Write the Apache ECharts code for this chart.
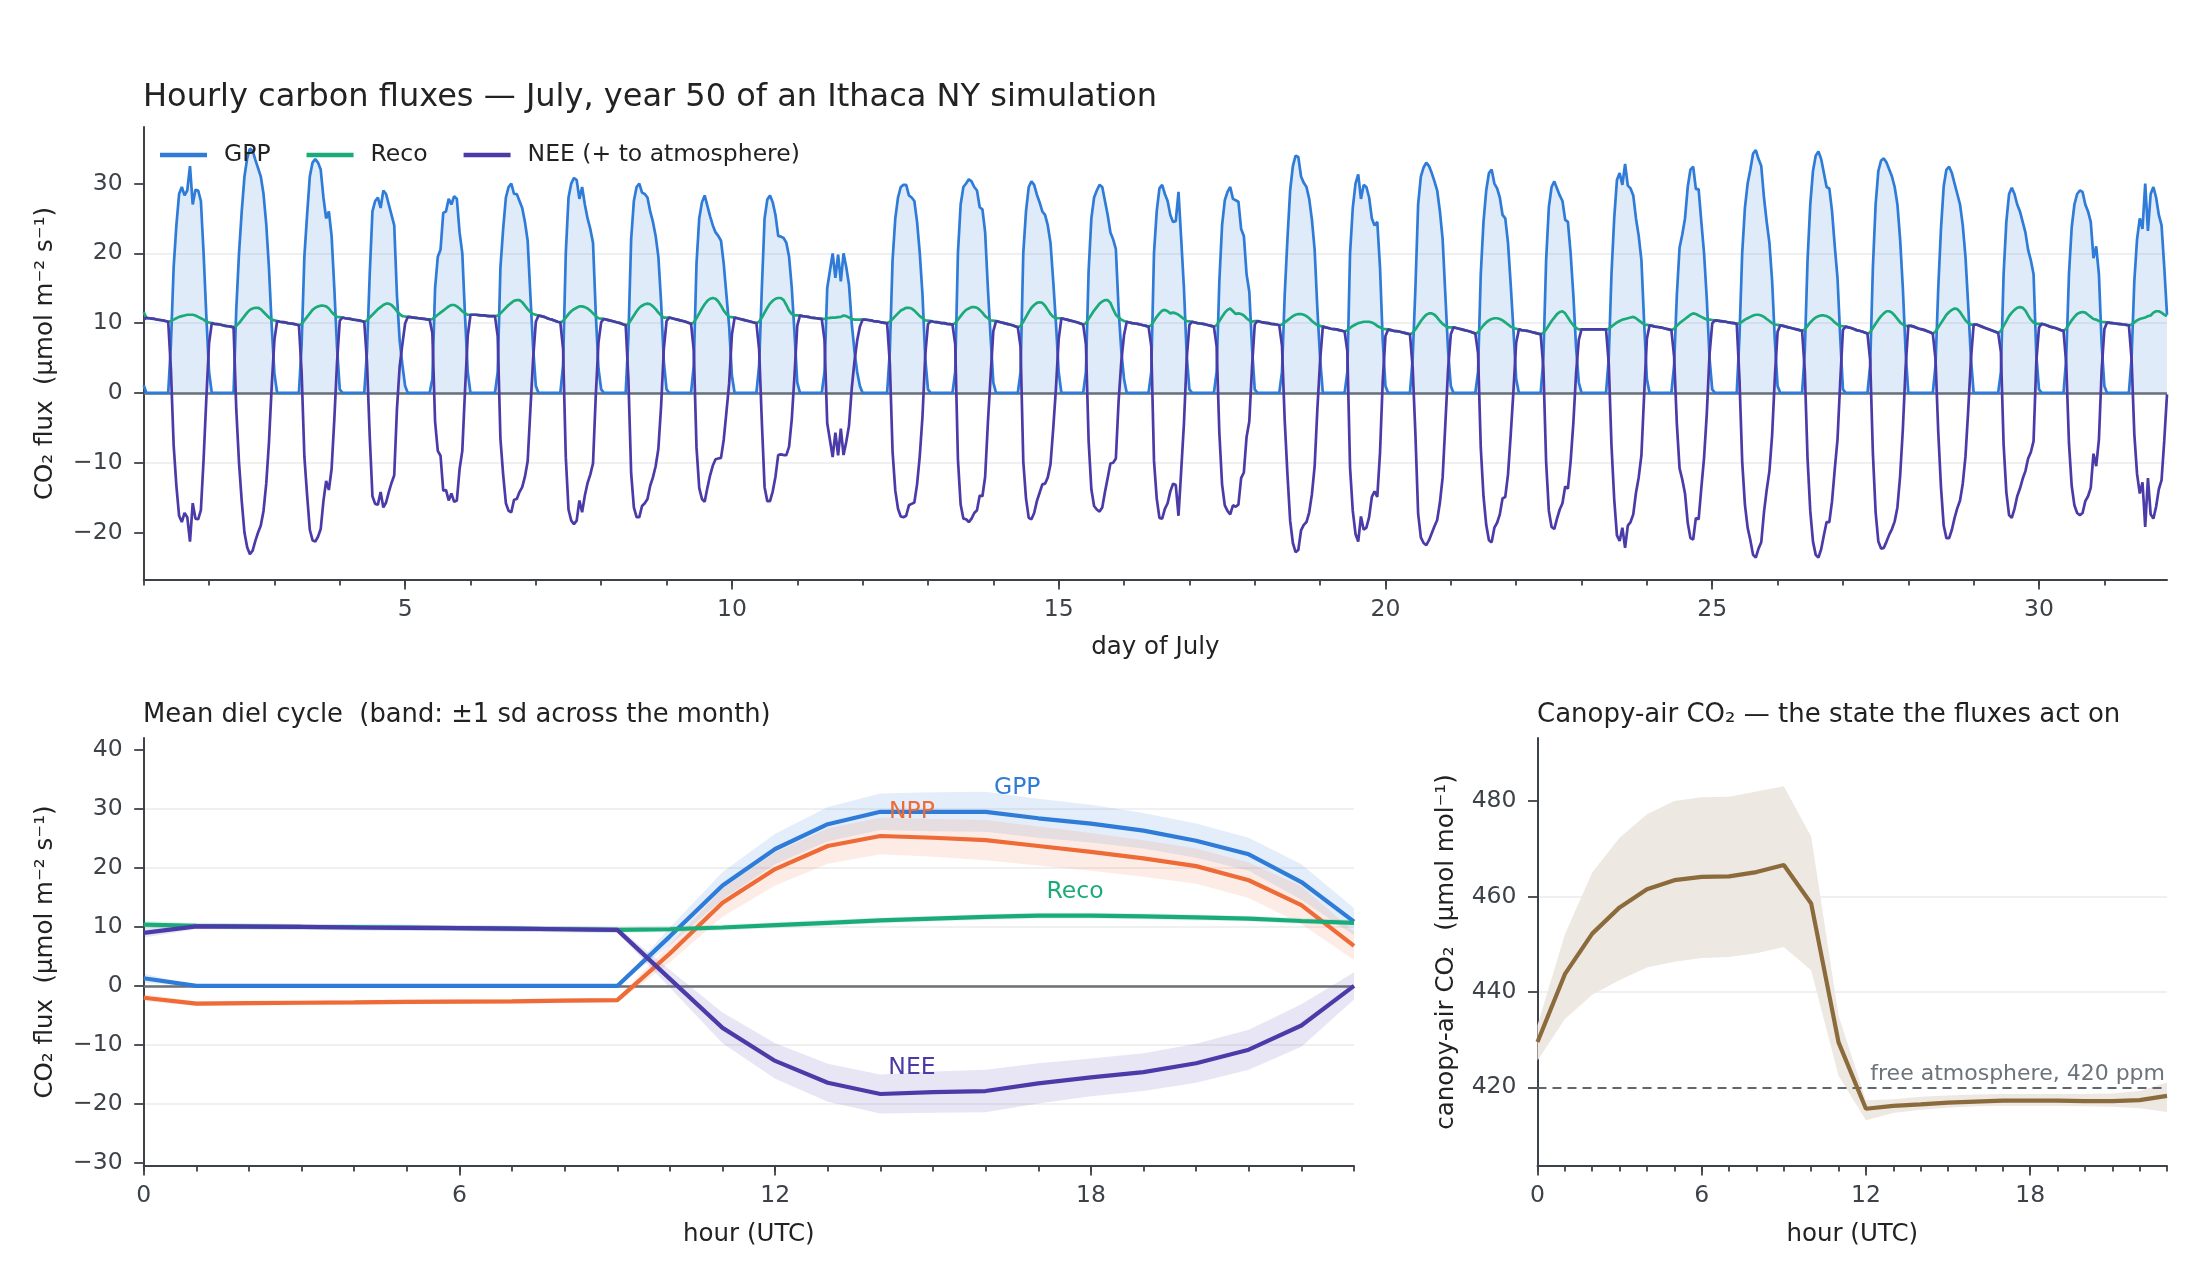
<!DOCTYPE html>
<html>
<head>
<meta charset="utf-8">
<script src="https://cdn.jsdelivr.net/npm/echarts@6/dist/echarts.min.js"></script>
<style>
  html, body { margin: 0; padding: 0; background: #fff; }
  #chart { width: 2200px; height: 1280px; }
</style>
</head>
<body>
<div id="chart"></div>
<script>
// hourly GPP for each day of July, hours 0..23 UTC (umol m-2 s-1)
const gppByDay = [
  [1.1,0,0,0,0,0,0,0,0,0,7,18,24,28.5,29.5,28.3,29,32.5,27,29.1,29,27.5,20,11],
  [3.0,0,0,0,0,0,0,0,0,0,12,20,26,31,33.6,35,34.7,33.4,32.2,31,28.5,24.2,17.9,9.6],
  [2.8,0,0,0,0,0,0,0,0,0,7,19.5,25.5,31,33,33.5,33,32,28,25,26,22.5,15,6.5],
  [0.5,0,0,0,0,0,0,0,0,0,6,17,26,27.5,28,26.5,29,28.5,27,25.5,24,14,7.5,4],
  [1,0,0,0,0,0,0,0,0,0,2,15,19.5,20.5,25.8,26,27.8,27,28.2,27.8,23,20,11,3],
  [0,0,0,0,0,0,0,0,0,0,3,18,23.5,28,29.5,30,28.5,28.5,27.5,26.5,24.5,21.8,14,6.5],
  [1,0,0,0,0,0,0,0,0,0,4,20,28,30,30.8,30.5,27.8,29.5,27,25,23.5,21.5,11.5,3.5],
  [0.5,0,0,0,0,0,0,0,0,0,8,22,27.5,29.5,30,28.7,28.5,28,26,24.5,22.5,19.5,13,4.5],
  [0.5,0,0,0,0,0,0,0,0,0,4,18.5,25,27.3,28.3,26.8,25.3,24,23,22.5,21.8,18.5,14,9.5],
  [2.5,0,0,0,0,0,0,0,0,0,4,15,25,27.7,28.3,27.3,25.5,22.5,22.4,22.2,21.5,19.5,15,8.5],
  [1.5,0,0,0,0,0,0,0,0,0,3,15,17.5,20,16.5,19.8,16,20,18,15.5,10,6,3,1],
  [0,0,0,0,0,0,0,0,0,0,6,19,25,28,29.5,29.8,29.8,28.3,28,27.5,24.5,20,14,5],
  [0.5,0,0,0,0,0,0,0,0,0,3,20,27,29.5,30,30.6,30.3,29.5,29,26.6,26.3,23,15,8],
  [1.5,0,0,0,0,0,0,0,0,0,3,20,26,29.5,30.3,29.8,28.4,27.3,26,25.5,24,21.5,16,10],
  [3,0,0,0,0,0,0,0,0,0,3,17.5,25,28,29,29.8,29.5,27.5,25.5,23,22,20.6,12,6],
  [2,0,0,0,0,0,0,0,0,0,3,20,26,29.3,29.8,28.5,27.5,25.5,24.5,24.6,28.8,22,15,5.5],
  [0.5,0,0,0,0,0,0,0,0,0,3,16,24,27.6,28.8,29.5,27.8,27.6,27.4,23.5,22.5,17,14.5,6.5],
  [0.5,0,0,0,0,0,0,0,0,0,3,14,22,29,32.5,34,33.8,31,30.1,29.5,27.8,24.8,20.5,12],
  [5,0,0,0,0,0,0,0,0,0,3,20,26.5,30,31.3,27.8,29.8,29.5,28,25,24,24.5,18,7.5],
  [1,0,0,0,0,0,0,0,0,0,5,15,27,31,32.3,33,32.5,31.5,30.3,29,26,22,14,6],
  [1,0,0,0,0,0,0,0,0,0,3,17,24.5,29,31.5,32,30,29.3,28,25.5,25,21.5,15.5,9],
  [2,0,0,0,0,0,0,0,0,0,5,19,26.6,29.5,30.3,29.3,28.3,27.5,24.8,24.5,20,14,6.5,1.5],
  [0,0,0,0,0,0,0,0,0,0,5,17,25,30.5,31.5,29.8,32.8,29.7,29.3,28.3,25,22.5,19,10],
  [2,0,0,0,0,0,0,0,0,0,4,14,20.8,22.7,25,29.5,32,32.4,29.2,29.2,24.5,20,13.5,5],
  [0.5,0,0,0,0,0,0,0,0,0,8,20,26.5,30,32,34.3,34.8,33.5,32.5,28,24.5,21.5,16,7.5],
  [1,0,0,0,0,0,0,0,0,0,6,19,27,31.8,34,34.6,33.5,31.5,29.5,29.3,26,21,16.5,8],
  [0.5,0,0,0,0,0,0,0,0,0,4,18,27,31.8,33.3,33.6,33,32,31,29.5,27,22,15,6],
  [0,0,0,0,0,0,0,0,0,0,4,15,23.5,29.6,32,32.4,31.5,30,28.5,27,24,19.5,12.5,5],
  [0,0,0,0,0,0,0,0,0,0,3,17,24.5,28.5,29.4,28.5,27,26,24.5,23,20.5,19,17,5.5],
  [0.5,0,0,0,0,0,0,0,0,0,5,17,23.7,27,28.5,29,28.8,27,26,24.5,19.3,21,17,7],
  [1,0,0,0,0,0,0,0,0,0,5,16,22,25,23.5,30,23.2,28.5,29.5,28,25.5,24,18,11.2]
];

// hourly ecosystem respiration for each day, hours 0..23 UTC
const recoByDay = [
  [11.6,10.75,10.7,10.65,10.6,10.5,10.45,10.4,10.3,10.2,10.3,10.5,10.7,10.9,11.0,11.1,11.2,11.2,11.2,11.1,10.9,10.7,10.5,10.2],
  [10.1,10.0,9.9,9.85,9.8,9.7,9.6,9.55,9.5,9.4,9.6,10.0,10.5,11.0,11.5,11.9,12.1,12.2,12.2,12.0,11.6,11.2,10.8,10.5],
  [10.4,10.3,10.2,10.15,10.1,10.0,9.95,9.9,9.8,9.7,9.9,10.4,10.9,11.4,11.9,12.2,12.4,12.5,12.5,12.4,12.1,11.6,11.2,10.9],
  [10.85,10.8,10.7,10.65,10.6,10.5,10.45,10.4,10.3,10.2,10.4,10.8,11.2,11.6,12.0,12.3,12.6,12.8,12.8,12.6,12.2,11.7,11.3,11.0],
  [10.95,10.9,10.85,10.8,10.75,10.7,10.65,10.6,10.55,10.5,10.6,10.9,11.2,11.5,11.8,12.1,12.4,12.6,12.6,12.4,12.1,11.7,11.4,11.2],
  [11.2,11.2,11.2,11.15,11.1,11.1,11.05,11.0,11.0,11.0,11.1,11.4,11.8,12.2,12.6,12.9,13.2,13.3,13.3,13.0,12.5,12.0,11.6,11.3],
  [11.2,11.1,11.0,10.9,10.75,10.6,10.5,10.35,10.2,10.1,10.3,10.8,11.3,11.7,12.0,12.2,12.4,12.4,12.3,12.1,11.8,11.4,11.0,10.7],
  [10.65,10.6,10.5,10.4,10.3,10.2,10.1,10.0,9.85,9.7,9.9,10.5,11.1,11.7,12.2,12.5,12.7,12.8,12.7,12.4,12.0,11.5,11.1,10.8],
  [10.8,10.8,10.7,10.6,10.5,10.4,10.3,10.2,10.05,9.9,10.1,10.7,11.4,12.1,12.7,13.2,13.5,13.6,13.5,13.1,12.5,11.8,11.3,10.9],
  [10.85,10.8,10.7,10.6,10.5,10.4,10.3,10.2,10.1,10.0,10.2,10.8,11.5,12.2,12.8,13.2,13.5,13.6,13.6,13.3,12.6,11.8,11.3,11.1],
  [11.1,11.1,11.0,10.95,10.9,10.8,10.75,10.7,10.65,10.6,10.6,10.7,10.75,10.8,10.8,10.85,10.9,11.1,11.0,10.8,10.6,10.5,10.5,10.5],
  [10.5,10.5,10.45,10.4,10.3,10.25,10.2,10.1,10.05,10.0,10.2,10.6,11.0,11.4,11.8,12.0,12.2,12.2,12.1,11.8,11.4,11.0,10.7,10.4],
  [10.35,10.3,10.2,10.15,10.1,10.0,10.0,9.9,9.85,9.8,10.0,10.5,11.0,11.5,11.9,12.1,12.3,12.3,12.2,11.9,11.5,11.0,10.7,10.4],
  [10.35,10.3,10.2,10.1,10.0,9.9,9.8,9.7,9.55,9.4,9.6,10.2,10.9,11.6,12.2,12.6,12.9,13.0,12.9,12.5,11.9,11.3,10.9,10.7],
  [10.7,10.7,10.6,10.5,10.4,10.3,10.2,10.1,9.95,9.8,10.0,10.6,11.2,11.8,12.3,12.8,13.1,13.3,13.3,12.9,12.0,11.2,10.8,10.5],
  [10.3,10.2,10.1,10.0,9.95,9.9,9.8,9.7,9.6,9.5,9.7,10.3,10.9,11.4,11.8,11.9,11.7,11.4,11.5,11.4,11.2,10.9,10.6,10.3],
  [10.25,10.2,10.1,10.0,9.95,9.9,9.8,9.7,9.6,9.5,9.7,10.3,10.9,11.5,11.9,12.1,11.7,11.3,11.4,11.3,11.1,10.7,10.4,10.2],
  [10.3,10.3,10.2,10.1,10.05,10.0,9.9,9.85,9.8,9.7,9.8,10.1,10.4,10.7,11.0,11.2,11.3,11.3,11.2,11.0,10.7,10.3,10.0,9.7],
  [9.6,9.5,9.4,9.3,9.2,9.15,9.1,9.0,8.9,8.8,9.0,9.3,9.6,9.8,10.0,10.1,10.2,10.2,10.2,10.1,9.9,9.6,9.4,9.2],
  [9.15,9.1,9.0,8.9,8.85,8.8,8.7,8.6,8.5,8.4,8.6,9.1,9.7,10.3,10.8,11.2,11.4,11.4,11.2,10.8,10.3,9.9,9.6,9.4],
  [9.4,9.4,9.3,9.2,9.1,9.0,8.9,8.8,8.65,8.5,8.7,9.2,9.7,10.1,10.4,10.6,10.7,10.7,10.6,10.4,10.1,9.8,9.5,9.3],
  [9.2,9.1,9.0,8.95,8.9,8.8,8.7,8.6,8.5,8.4,8.6,9.1,9.7,10.3,10.8,11.3,11.6,11.7,11.4,10.8,10.2,9.7,9.3,9.1],
  [9.1,9.1,9.1,9.1,9.1,9.1,9.1,9.1,9.1,9.1,9.2,9.5,9.8,10.1,10.3,10.5,10.6,10.7,10.8,10.9,10.7,10.4,10.1,9.8],
  [9.75,9.7,9.6,9.5,9.45,9.4,9.3,9.2,9.1,9.0,9.2,9.6,10.0,10.3,10.6,10.9,11.2,11.4,11.3,11.1,10.9,10.7,10.5,10.5],
  [10.45,10.4,10.35,10.3,10.25,10.2,10.1,10.05,10.0,9.9,10.0,10.2,10.5,10.7,10.9,11.1,11.2,11.2,11.1,10.9,10.6,10.3,10.0,9.8],
  [9.75,9.7,9.6,9.5,9.4,9.3,9.2,9.1,9.0,8.9,9.1,9.6,10.1,10.5,10.8,11.0,11.1,11.1,11.0,10.8,10.5,10.1,9.8,9.6],
  [9.55,9.5,9.4,9.3,9.15,9.0,8.9,8.8,8.65,8.5,8.7,9.3,9.9,10.5,11.0,11.4,11.7,11.7,11.5,11.1,10.6,10.1,9.8,9.6],
  [9.6,9.6,9.5,9.35,9.2,9.1,9.0,8.85,8.7,8.5,8.8,9.4,10.0,10.6,11.2,11.6,11.9,12.1,12.0,11.6,11.0,10.4,10.0,9.8],
  [9.8,9.8,9.65,9.5,9.35,9.2,9.05,8.9,8.75,8.6,8.9,9.6,10.3,11.0,11.5,11.9,12.2,12.3,12.2,11.8,11.1,10.5,10.1,9.9],
  [9.9,9.9,9.8,9.65,9.5,9.4,9.3,9.15,9.0,8.9,9.2,9.8,10.4,10.9,11.3,11.5,11.6,11.5,11.2,10.9,10.6,10.5,10.3,10.2],
  [10.15,10.1,10.05,10.0,9.95,9.9,9.85,9.8,9.75,9.7,9.8,10.1,10.4,10.6,10.7,10.8,11.0,11.1,11.5,11.7,11.7,11.5,11.2,11.0]
];

// mean diel cycle over the month, hours 0..23 UTC
const hours = [0,1,2,3,4,5,6,7,8,9,10,11,12,13,14,15,16,17,18,19,20,21,22,23];
const dielGpp  = [1.3,0,0,0,0,0,0,0,0,0,8.4,17.0,23.2,27.4,29.5,29.5,29.5,28.4,27.5,26.3,24.6,22.3,17.6,10.9];
const dielNpp  = [-2.0,-3.0,-2.9,-2.85,-2.8,-2.7,-2.65,-2.6,-2.5,-2.4,5.5,14.1,19.8,23.7,25.4,25.1,24.7,23.7,22.7,21.6,20.3,17.9,13.7,6.8];
const dielReco = [10.4,10.2,10.1,10.0,9.95,9.9,9.8,9.7,9.6,9.5,9.6,9.9,10.3,10.7,11.1,11.4,11.7,11.9,11.9,11.8,11.6,11.4,11.0,10.7];
const dielNee  = [9.0,10.1,10.05,10.0,9.9,9.85,9.8,9.7,9.6,9.5,1.2,-7.1,-12.7,-16.4,-18.3,-18.0,-17.8,-16.5,-15.5,-14.6,-13.1,-10.8,-6.7,0.0];
const gppSd  = [0.8,0,0,0,0,0,0,0,0,0,1.5,2.3,2.6,2.9,3.1,3.3,3.4,3.3,3.2,3.0,2.9,2.8,3.0,2.3];
const nppSd  = [0.6,0.4,0.4,0.4,0.4,0.4,0.4,0.4,0.4,0.4,1.5,2.4,2.8,3.0,3.1,3.2,3.4,3.3,3.2,3.1,3.0,3.0,3.2,2.4];
const recoSd = [0.6,0.5,0.5,0.5,0.5,0.5,0.5,0.5,0.5,0.5,0.5,0.5,0.5,0.5,0.5,0.5,0.5,0.5,0.5,0.5,0.5,0.5,0.5,0.5];
const neeSd  = [0.8,0.5,0.5,0.5,0.5,0.5,0.5,0.5,0.5,0.5,1.5,2.6,3.0,3.2,3.3,3.5,3.6,3.4,3.2,3.2,3.3,3.4,3.6,2.3];

// canopy-air CO2 (umol mol-1), mean and spread
const co2Mean = [429.5,443.7,452.2,457.7,461.5,463.4,464.1,464.2,465.1,466.6,458.5,429.4,415.5,416.1,416.4,416.8,417.0,417.2,417.2,417.2,417.1,417.1,417.3,418.2];
const co2Hi   = [433.0,452.0,465.0,472.3,477.2,480.0,480.8,480.9,482.0,483.1,472.5,435.0,417.3,417.5,418.0,418.3,418.5,418.6,418.6,418.6,418.6,418.7,419.2,421.0];
const co2Lo   = [425.6,434.3,439.4,442.5,445.1,446.3,447.1,447.3,448.1,449.4,444.5,422.4,413.1,414.6,415.3,415.7,416.0,416.1,416.1,416.1,416.0,415.9,415.6,414.8];
const freeAtmCo2 = 420;

// ticks
const dayTicks = Array.from({length: 31}, (_, i) => i + 1);
const dayLabels = [5, 10, 15, 20, 25, 30];
const hourLabels = [0, 6, 12, 18];
const fluxTicksTop = [-20, -10, 0, 10, 20, 30];
const fluxTicksDiel = [-30, -20, -10, 0, 10, 20, 30, 40];
const co2Ticks = [420, 440, 460, 480];

const C = {
  gpp: '#2f7bd8', reco: '#1aab78', nee: '#4b3ba9', npp: '#ee6a36', co2: '#8b6a3c',
  axis: '#3d4248', text: '#222', grid: '#ebebeb', zero: '#6b7075'
};
const FONT = 'DejaVu Sans';
const minus = v => String(v).replace('-', '\u2212');

// hourly points for the month panel
const gppPts = [], recoPts = [], neePts = [];
gppByDay.forEach((row, d) => {
  row.forEach((v, h) => {
    const t = d + 1 + h / 24;
    const r = recoByDay[d][h];
    gppPts.push([t, v]);
    recoPts.push([t, r]);
    neePts.push([t, +(r - v).toFixed(2)]);
  });
});
const tMax = 1 + (gppByDay.length * 24 - 1) / 24;

function xAxes(grid, min, max, minorVals, majorVals, name, gap) {
  return [{
    gridIndex: grid, type: 'value', min: min, max: max, position: 'bottom',
    name: name, nameLocation: 'middle', nameGap: gap,
    nameTextStyle: {fontSize: 24.5, color: C.text, fontFamily: FONT},
    axisLine: {onZero: false, lineStyle: {color: C.axis, width: 2}},
    axisTick: {customValues: minorVals, length: 5.5, lineStyle: {color: C.axis, width: 1.8}},
    axisLabel: {customValues: majorVals, margin: 18, fontSize: 23.5, color: C.axis, fontFamily: FONT},
    splitLine: {show: false}
  }, {
    gridIndex: grid, type: 'value', min: min, max: max, position: 'bottom',
    axisLine: {show: false, onZero: false},
    axisTick: {show: true, customValues: majorVals, length: 9.5, lineStyle: {color: C.axis, width: 1.8}},
    axisLabel: {show: false},
    splitLine: {show: false}
  }];
}

function yAxis(grid, min, max, vals, name, gap) {
  return {
    gridIndex: grid, type: 'value', min: min, max: max,
    name: name, nameLocation: 'middle', nameGap: gap,
    nameTextStyle: {fontSize: 24.5, color: C.text, fontFamily: FONT},
    axisLine: {show: true, onZero: false, lineStyle: {color: C.axis, width: 2}},
    axisTick: {show: true, customValues: vals, length: 9.5, lineStyle: {color: C.axis, width: 1.8}},
    axisLabel: {customValues: vals, margin: 21, fontSize: 23.5, color: C.axis, fontFamily: FONT, formatter: minus},
    splitLine: {show: true, showMinLine: false, showMaxLine: false, lineStyle: {color: C.grid, width: 1.5}}
  };
}

// shaded band drawn as one polygon through the axes' scales
function bandSeries(id, xi, yi, lo, hi, color) {
  return {
    name: id, type: 'custom', xAxisIndex: xi, yAxisIndex: yi, z: 1, silent: true,
    data: hours.map((h, i) => [h, lo[i], hi[i]]),
    encode: {x: 0, y: [1, 2]},
    renderItem: function (params, api) {
      if (params.dataIndexInside !== 0) return null;
      const pts = [];
      for (let i = 0; i < hours.length; i++) pts.push(api.coord([hours[i], hi[i]]));
      for (let i = hours.length - 1; i >= 0; i--) pts.push(api.coord([hours[i], lo[i]]));
      return {type: 'polygon', shape: {points: pts}, style: {fill: color}};
    }
  };
}
function meanBand(id, mean, sd, color) {
  return bandSeries(id, 2, 1, mean.map((m, i) => m - sd[i]), mean.map((m, i) => m + sd[i]), color);
}

const labelAt = {GPP: [16.6, 33.6], NPP: [14.6, 29.5], Reco: [17.7, 16.0], NEE: [14.6, -13.9]};
function tag(text, color) {
  return {
    symbol: 'rect', symbolSize: 1, itemStyle: {color: 'rgba(0,0,0,0)'}, silent: true,
    label: {show: true, position: 'inside', formatter: text, color: color, fontSize: 23.5, fontFamily: FONT},
    data: [{coord: labelAt[text]}]
  };
}
function zeroLine() {
  return {silent: true, symbol: 'none', z: 2, label: {show: false},
    lineStyle: {color: C.zero, width: 2.5, type: 'solid'}, data: [{yAxis: 0}]};
}
function dielLine(name, data, color, text) {
  return {
    name: name, type: 'line', xAxisIndex: 2, yAxisIndex: 1, z: 3,
    data: hours.map((h, i) => [h, data[i]]), symbol: 'none',
    lineStyle: {color: color, width: 4.2}, itemStyle: {color: color},
    markPoint: tag(text, color)
  };
}

const chart = echarts.init(document.getElementById('chart'), null, {renderer: 'canvas'});

const series = [
  // month panel
  {
    name: 'GPP', type: 'line', xAxisIndex: 0, yAxisIndex: 0, z: 3,
    data: gppPts, symbol: 'none',
    lineStyle: {color: C.gpp, width: 2.7}, itemStyle: {color: C.gpp},
    areaStyle: {color: 'rgba(47,123,216,0.22)'},
    markLine: zeroLine()
  },
  {
    name: 'Reco', type: 'line', xAxisIndex: 0, yAxisIndex: 0, z: 4,
    data: recoPts, symbol: 'none',
    lineStyle: {color: C.reco, width: 2.7}, itemStyle: {color: C.reco}
  },
  {
    name: 'NEE (+ to atmosphere)', type: 'line', xAxisIndex: 0, yAxisIndex: 0, z: 5,
    data: neePts, symbol: 'none',
    lineStyle: {color: C.nee, width: 2.7}, itemStyle: {color: C.nee}
  },
  // diel panel bands
  meanBand('gppBand', dielGpp, gppSd, 'rgba(47,123,216,0.13)'),
  meanBand('nppBand', dielNpp, nppSd, 'rgba(238,106,54,0.13)'),
  meanBand('recoBand', dielReco, recoSd, 'rgba(26,171,120,0.13)'),
  meanBand('neeBand', dielNee, neeSd, 'rgba(75,59,169,0.13)'),
  Object.assign(dielLine('GPP mean', dielGpp, C.gpp, 'GPP'), {markLine: zeroLine()}),
  dielLine('NPP mean', dielNpp, C.npp, 'NPP'),
  dielLine('Reco mean', dielReco, C.reco, 'Reco'),
  dielLine('NEE mean', dielNee, C.nee, 'NEE'),
  // canopy CO2 panel
  bandSeries('co2Band', 4, 2, co2Lo, co2Hi, '#ede8e1'),
  {
    name: 'canopy CO2', type: 'line', xAxisIndex: 4, yAxisIndex: 2, z: 3,
    data: hours.map((h, i) => [h, co2Mean[i]]), symbol: 'none',
    lineStyle: {color: C.co2, width: 4.2}, itemStyle: {color: C.co2},
    markLine: {
      silent: true, symbol: 'none', z: 2,
      lineStyle: {color: '#5f666d', width: 2.2, type: [9, 6]},
      label: {show: true, position: 'insideEndTop', formatter: 'free atmosphere, 420 ppm',
        color: '#6c737a', fontSize: 22, fontFamily: FONT, distance: 2},
      data: [{yAxis: freeAtmCo2}]
    }
  }
];

chart.setOption({
  animation: false,
  backgroundColor: '#fff',
  textStyle: {fontFamily: FONT},
  title: [
    {text: 'Hourly carbon fluxes — July, year 50 of an Ithaca NY simulation', left: 143, top: 82, padding: 0,
      textStyle: {fontSize: 32, fontWeight: 'normal', color: C.text, fontFamily: FONT}},
    {text: 'Mean diel cycle  (band: ±1 sd across the month)', left: 143, top: 702, padding: 0,
      textStyle: {fontSize: 25.8, fontWeight: 'normal', color: C.text, fontFamily: FONT}},
    {text: 'Canopy-air CO₂ — the state the fluxes act on', left: 1537, top: 702, padding: 0,
      textStyle: {fontSize: 26, fontWeight: 'normal', color: C.text, fontFamily: FONT}}
  ],
  legend: {
    data: ['GPP', 'Reco', 'NEE (+ to atmosphere)'],
    left: 155, top: 138, icon: 'rect', itemWidth: 47, itemHeight: 4.5, itemGap: 36,
    textStyle: {fontSize: 23.5, color: C.text, fontFamily: FONT, padding: [0, 0, 0, 12]}
  },
  grid: [
    {left: 143.7, top: 127, width: 2023.3, height: 453},
    {left: 143.7, top: 738, width: 1210.3, height: 428},
    {left: 1537.5, top: 738, width: 629.5, height: 428}
  ],
  xAxis: []
    .concat(xAxes(0, 1, tMax, dayTicks, dayLabels, 'day of July', 55))
    .concat(xAxes(1, 0, 23, hours, hourLabels, 'hour (UTC)', 56))
    .concat(xAxes(2, 0, 23, hours, hourLabels, 'hour (UTC)', 56)),
  yAxis: [
    yAxis(0, -26.8, 38.1, fluxTicksTop, 'CO₂ flux  (µmol m⁻² s⁻¹)', 86),
    yAxis(1, -30.5, 42, fluxTicksDiel, 'CO₂ flux  (µmol m⁻² s⁻¹)', 86),
    yAxis(2, 403.5, 493.2, co2Ticks, 'canopy-air CO₂  (µmol mol⁻¹)', 78)
  ],
  series: series
});
</script>
</body>
</html>
